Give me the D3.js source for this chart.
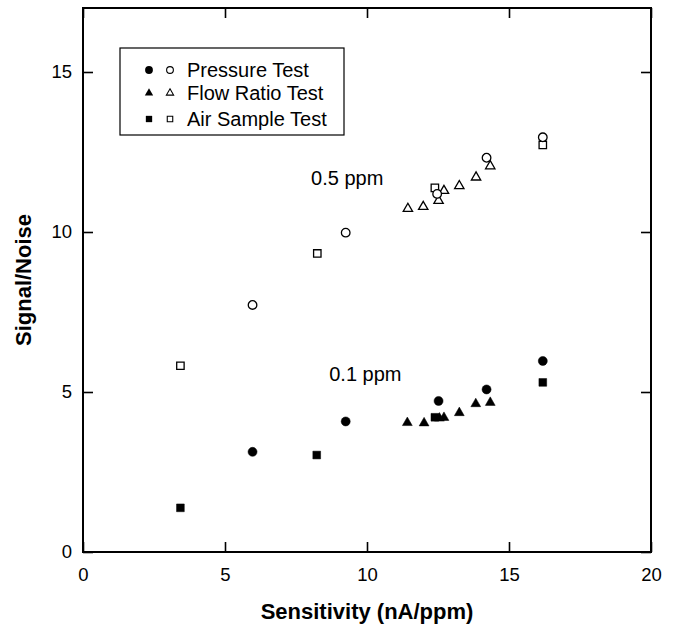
<!DOCTYPE html>
<html>
<head>
<meta charset="utf-8">
<script src="https://cdn.jsdelivr.net/npm/d3@7"></script>
<style>
  body { margin: 0; background: #fff; }
  svg { font-family: "Liberation Sans", Arial, sans-serif; }
</style>
</head>
<body>
<div id="chart"></div>
<script>
// tick values for both axes
var xTicks = [0, 5, 10, 15, 20];
var yTicks = [0, 5, 10, 15];

// 0.5 ppm runs (open symbols)
var pressureX05 = [5.97, 9.25, 12.47, 14.21, 16.19];
var pressureY05 = [7.72, 9.98, 11.19, 12.32, 12.96];
var flowX05 = [11.44, 11.98, 12.52, 12.71, 13.25, 13.84, 14.34];
var flowY05 = [10.73, 10.79, 10.98, 11.29, 11.44, 11.71, 12.06];
var airX05 = [3.43, 8.25, 12.39, 16.19];
var airY05 = [5.82, 9.33, 11.38, 12.72];

// 0.1 ppm runs (filled symbols)
var pressureX01 = [5.97, 9.25, 12.52, 14.21, 16.19];
var pressureY01 = [3.13, 4.08, 4.72, 5.08, 5.97];
var flowX01 = [11.42, 12.01, 12.55, 12.71, 13.25, 13.83, 14.34];
var flowY01 = [4.04, 4.03, 4.18, 4.2, 4.35, 4.63, 4.67];
var airX01 = [3.43, 8.23, 12.39, 16.19];
var airY01 = [1.38, 3.03, 4.21, 5.30];

var legendLabels = ["Pressure Test", "Flow Ratio Test", "Air Sample Test"];

// svg size and plot box
var svgWidth = 677;
var svgHeight = 625;
var margin = { top: 8, right: 26, bottom: 73, left: 83 };
var width = svgWidth - margin.left - margin.right;
var height = svgHeight - margin.top - margin.bottom;

var svg = d3.select("#chart")
    .append("svg")
    .attr("width", svgWidth)
    .attr("height", svgHeight);

var g = svg.append("g")
    .attr("transform", `translate(${margin.left}, ${margin.top})`);

var xScale = d3.scaleLinear().domain([0, 20]).range([0, width]);
var yScale = d3.scaleLinear().domain([0, 17]).range([height, 0]);

// axes, ticks pointing into the plot
var xAxis = d3.axisBottom(xScale).tickValues(xTicks).tickSizeInner(-10).tickSizeOuter(0).tickPadding(16);
var yAxis = d3.axisLeft(yScale).tickValues(yTicks).tickSizeInner(-10).tickSizeOuter(0).tickPadding(11);
var xTop = d3.axisTop(xScale).tickValues(xTicks).tickSizeInner(-10).tickSizeOuter(0).tickFormat("");
var yRight = d3.axisRight(yScale).tickValues(yTicks).tickSizeInner(-10).tickSizeOuter(0).tickFormat("");

g.append("g").attr("class", "xAxis").attr("transform", `translate(0, ${height})`).call(xAxis);
g.append("g").attr("class", "yAxis").call(yAxis);
g.append("g").attr("class", "xTop").call(xTop);
g.append("g").attr("class", "yRight").attr("transform", `translate(${width}, 0)`).call(yRight);

g.selectAll(".domain").remove();
g.selectAll(".tick line").attr("stroke", "#000").attr("stroke-width", 1.6);
g.selectAll(".tick text").attr("fill", "#000").style("font-size", "18.5px");

// plot frame
g.append("rect")
    .attr("width", width)
    .attr("height", height)
    .attr("fill", "none")
    .attr("stroke", "#000")
    .attr("stroke-width", 2);

// axis titles
svg.append("text")
    .attr("x", margin.left + width / 2)
    .attr("y", 619)
    .attr("text-anchor", "middle")
    .style("font-size", "22px")
    .style("font-weight", "bold")
    .text("Sensitivity (nA/ppm)");

svg.append("text")
    .attr("transform", `translate(31, ${margin.top + height / 2}) rotate(-90)`)
    .attr("text-anchor", "middle")
    .style("font-size", "22px")
    .style("font-weight", "bold")
    .text("Signal/Noise");

// concentration labels
g.append("text").attr("x", xScale(8.03)).attr("y", yScale(11.47)).style("font-size", "20px").text("0.5 ppm");
g.append("text").attr("x", xScale(8.67)).attr("y", yScale(5.34)).style("font-size", "20px").text("0.1 ppm");

// draw one series of markers
function drawPoints(xs, ys, shape, size, filled) {
    var pts = xs.map((x, i) => ({ x: x, y: ys[i] }));
    g.append("g")
        .selectAll("path")
        .data(pts)
        .enter()
        .append("path")
        .attr("d", d3.symbol().type(shape).size(size))
        .attr("transform", d => `translate(${xScale(d.x)}, ${yScale(d.y)})`)
        .attr("fill", filled ? "#000" : "#fff")
        .attr("stroke", "#000")
        .attr("stroke-width", filled ? 0.5 : 1.3);
}

drawPoints(airX05, airY05, d3.symbolSquare, 55, false);
drawPoints(flowX05, flowY05, d3.symbolTriangle, 38, false);
drawPoints(pressureX05, pressureY05, d3.symbolCircle, 58, false);

drawPoints(flowX01, flowY01, d3.symbolTriangle, 42, true);
drawPoints(airX01, airY01, d3.symbolSquare, 60, true);
drawPoints(pressureX01, pressureY01, d3.symbolCircle, 64, true);

// legend
var legend = svg.append("g").attr("transform", "translate(120, 48)");
legend.append("rect")
    .attr("width", 224)
    .attr("height", 87)
    .attr("fill", "#fff")
    .attr("stroke", "#000")
    .attr("stroke-width", 1.2);

var legendShapes = [d3.symbolCircle, d3.symbolTriangle, d3.symbolSquare];
var legendSizes = [48, 30, 40];
var rowY = [22, 45, 71];

legendLabels.forEach((label, i) => {
    legend.append("path")
        .attr("d", d3.symbol().type(legendShapes[i]).size(legendSizes[i]))
        .attr("transform", `translate(29, ${rowY[i]})`)
        .attr("fill", "#000");
    legend.append("path")
        .attr("d", d3.symbol().type(legendShapes[i]).size(legendSizes[i] * 0.75))
        .attr("transform", `translate(50, ${rowY[i]})`)
        .attr("fill", "#fff")
        .attr("stroke", "#000")
        .attr("stroke-width", 1.1);
    legend.append("text")
        .attr("x", 67)
        .attr("y", rowY[i])
        .attr("dy", "0.35em")
        .style("font-size", "20px")
        .text(label);
});
</script>
</body>
</html>
